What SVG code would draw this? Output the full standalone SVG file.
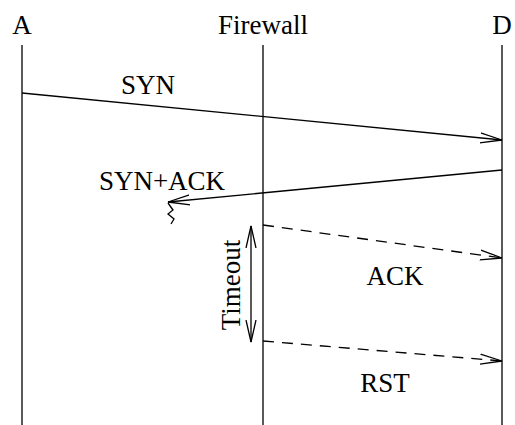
<svg xmlns="http://www.w3.org/2000/svg" width="515" height="425" viewBox="0 0 515 425">
<style>
text{font-family:"Liberation Serif","Times New Roman",serif;font-size:27px;fill:#000;text-anchor:middle}
.l{stroke:#000;stroke-width:1.3;fill:none}
.d{stroke-dasharray:11 8}
</style>
<defs>
<marker id="ah" markerUnits="userSpaceOnUse" markerWidth="26" markerHeight="14" refX="22" refY="7" orient="auto-start-reverse">
<path d="M0,2 L22,7 L0,12" fill="none" stroke="#000" stroke-width="1.3"/>
</marker>
</defs>
<rect width="515" height="425" fill="#fff"/>
<g id="A"><text x="22" y="34">A</text><line class="l" x1="22" y1="45" x2="22" y2="425"/></g>
<g id="Firewall"><text x="263" y="34">Firewall</text><line class="l" x1="263" y1="45" x2="263" y2="425"/></g>
<g id="D"><text x="502" y="34">D</text><line class="l" x1="502" y1="45" x2="502" y2="425"/></g>
<g id="connectors">
<line class="l" x1="22" y1="93" x2="502" y2="140" marker-end="url(#ah)"/>
<text x="148" y="94">SYN</text>
<line class="l" x1="502" y1="170" x2="168" y2="202" marker-end="url(#ah)"/>
<path class="l" d="M168,203 L173,210 L168,214 L174,219 L171,224"/>
<text x="162" y="190">SYN+ACK</text>
<line class="l d" x1="263" y1="225" x2="502" y2="258" marker-end="url(#ah)"/>
<text x="395" y="285">ACK</text>
<line class="l d" x1="263" y1="341" x2="502" y2="361" marker-end="url(#ah)"/>
<text x="385" y="392">RST</text>
<line class="l" x1="251" y1="226" x2="251" y2="342" marker-start="url(#ah)" marker-end="url(#ah)"/>
<text transform="translate(240,285) rotate(-90)">Timeout</text>
</g>
</svg>
